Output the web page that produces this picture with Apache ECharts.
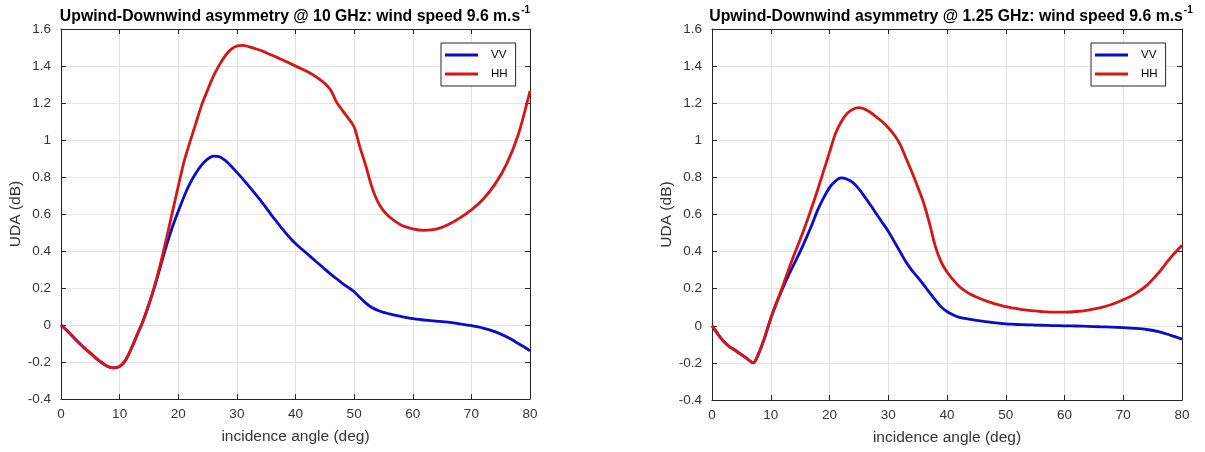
<!DOCTYPE html>
<html>
<head>
<meta charset="utf-8">
<script src="https://cdn.jsdelivr.net/npm/echarts@6/dist/echarts.min.js"></script>
<style>
html,body{margin:0;padding:0;background:#fff;}
#chart{width:1205px;height:452px;}
</style>
</head>
<body>
<div id="chart"></div>
<script>
// ---- data ----
var angles = [0,1,2,3,4,5,6,7,8,9,10,11,12,13,14,15,16,17,18,19,20,21,22,23,24,25,26,27,28,29,30,
  31,32,33,34,35,36,37,38,39,40,41,42,43,44,45,46,47,48,49,50,51,52,53,54,55,56,58,60,62,64,66,68,70,72,74,76,78,80];

var leftVV = [0,-0.03,-0.062,-0.095,-0.125,-0.152,-0.18,-0.204,-0.224,-0.232,-0.224,-0.19,-0.127,-0.052,0.022,0.112,0.21,0.32,0.43,0.53,0.615,
  0.695,0.765,0.82,0.865,0.897,0.913,0.91,0.89,0.86,0.825,
  0.79,0.752,0.714,0.675,0.633,0.59,0.55,0.51,0.473,0.44,0.412,0.385,0.357,0.33,0.302,0.275,0.25,0.225,0.203,0.18,
  0.148,0.118,0.095,0.08,0.068,0.06,0.046,0.034,0.027,0.021,0.015,0.006,-0.004,-0.017,-0.036,-0.064,-0.1,-0.139];

var leftHH = [0,-0.03,-0.062,-0.095,-0.125,-0.152,-0.18,-0.204,-0.224,-0.232,-0.224,-0.19,-0.127,-0.052,0.022,0.112,0.215,0.335,0.47,0.61,0.75,
  0.885,0.99,1.09,1.19,1.27,1.345,1.405,1.455,1.49,1.508,
  1.512,1.505,1.495,1.485,1.472,1.458,1.444,1.43,1.415,1.40,1.385,1.37,1.352,1.33,1.305,1.27,1.205,1.16,1.118,1.07,
  0.96,0.86,0.748,0.668,0.618,0.585,0.54,0.52,0.512,0.518,0.542,0.578,0.622,0.68,0.76,0.87,1.03,1.265];

var rightVV = [0,-0.045,-0.085,-0.113,-0.133,-0.155,-0.178,-0.2,-0.145,-0.06,0.04,0.125,0.2,0.27,0.335,0.4,0.47,0.545,0.625,0.69,0.745,
  0.78,0.797,0.79,0.772,0.738,0.695,0.65,0.603,0.556,0.51,
  0.455,0.4,0.345,0.3,0.262,0.222,0.18,0.14,0.102,0.077,0.06,0.047,0.04,0.034,0.029,0.025,0.021,0.017,0.013,0.01,
  0.009,0.007,0.006,0.005,0.004,0.003,0.001,0,-0.001,-0.003,-0.005,-0.007,-0.01,-0.014,-0.02,-0.031,-0.05,-0.072];

var rightHH = [0,-0.045,-0.085,-0.113,-0.133,-0.155,-0.178,-0.2,-0.145,-0.06,0.04,0.125,0.21,0.3,0.385,0.465,0.55,0.64,0.735,0.835,0.935,
  1.035,1.1,1.145,1.168,1.176,1.168,1.15,1.125,1.1,1.068,
  1.03,0.98,0.905,0.83,0.75,0.665,0.555,0.43,0.345,0.29,0.25,0.215,0.19,0.17,0.155,0.142,0.13,0.12,0.111,0.103,
  0.097,0.092,0.087,0.083,0.08,0.077,0.074,0.074,0.077,0.085,0.097,0.115,0.14,0.172,0.218,0.285,0.365,0.434];

var xTicks = {min: 0, max: 80, interval: 10};
var yTicks = {min: -0.4, max: 1.6, interval: 0.2};
var titles = ['Upwind-Downwind asymmetry @ 10 GHz: wind speed 9.6 m.s', 'Upwind-Downwind asymmetry @ 1.25 GHz: wind speed 9.6 m.s'];
var titleSup = '-1';
var xName = 'incidence angle (deg)';
var yName = 'UDA (dB)';
var seriesNames = ['VV', 'HH'];

// ---- chart ----
var FONT = '"Liberation Sans", Arial, Helvetica, sans-serif';
var AX = '#262626';
var LBL = '#333333';
var GRIDC = '#e3e3e3';
var BLUE = '#0a0ad0';
var RED = '#d81418';

function pairs(xs, ys){ return xs.map(function(x,i){ return [x, ys[i]]; }); }

var grids = [
  {left: 61, right: 675, top: 29, bottom: 53},
  {left: 712, right: 23, top: 29, bottom: 52}
];

var xAxes = [], yAxes = [];
[0,1].forEach(function(g){
  xAxes.push({
    type: 'value', gridIndex: g, min: xTicks.min, max: xTicks.max, interval: xTicks.interval,
    position: 'bottom',
    name: xName, nameLocation: 'middle', nameGap: 30,
    nameTextStyle: {fontFamily: FONT, fontSize: 15.5, color: LBL},
    axisLine: {show: true, onZero: false, lineStyle: {color: AX, width: 1}},
    axisTick: {show: true, inside: true, length: 5, lineStyle: {color: AX}},
    axisLabel: {fontFamily: FONT, fontSize: 13.5, color: LBL, margin: 8},
    splitLine: {show: true, lineStyle: {color: GRIDC, width: 1}}
  });
  xAxes.push({
    type: 'value', gridIndex: g, min: xTicks.min, max: xTicks.max, interval: xTicks.interval,
    position: 'top',
    axisLine: {show: true, onZero: false, lineStyle: {color: AX, width: 1}},
    axisTick: {show: true, inside: true, length: 5, lineStyle: {color: AX}},
    axisLabel: {show: false},
    splitLine: {show: false}
  });
  yAxes.push({
    type: 'value', gridIndex: g, min: yTicks.min, max: yTicks.max, interval: yTicks.interval,
    position: 'left',
    name: yName, nameLocation: 'middle', nameGap: 36, nameRotate: 90,
    nameTextStyle: {fontFamily: FONT, fontSize: 15.5, color: LBL},
    axisLine: {show: true, onZero: false, lineStyle: {color: AX, width: 1}},
    axisTick: {show: true, inside: true, length: 5, lineStyle: {color: AX}},
    axisLabel: {fontFamily: FONT, fontSize: 13.5, color: LBL, margin: 10,
      formatter: function(v){ return String(Math.round(v*10)/10); }},
    splitLine: {show: true, lineStyle: {color: GRIDC, width: 1}}
  });
  yAxes.push({
    type: 'value', gridIndex: g, min: yTicks.min, max: yTicks.max, interval: yTicks.interval,
    position: 'right',
    axisLine: {show: true, onZero: false, lineStyle: {color: AX, width: 1}},
    axisTick: {show: true, inside: true, length: 5, lineStyle: {color: AX}},
    axisLabel: {show: false},
    splitLine: {show: false}
  });
});

function lineSeries(name, color, xi, yi, data){
  return {
    name: name, type: 'line', xAxisIndex: xi, yAxisIndex: yi,
    data: data, showSymbol: false, symbol: 'none', smooth: 0.3,
    lineStyle: {color: color, width: 2.8}, itemStyle: {color: color},
    animation: false
  };
}

var series = [
  lineSeries(seriesNames[0], BLUE, 0, 0, pairs(angles, leftVV)),
  lineSeries(seriesNames[1], RED, 0, 0, pairs(angles, leftHH)),
  lineSeries(seriesNames[0], BLUE, 2, 2, pairs(angles, rightVV)),
  lineSeries(seriesNames[1], RED, 2, 2, pairs(angles, rightHH))
];

function makeTitle(text, cx){
  return {
    text: '{m|' + text + '}{s|' + titleSup + '}',
    left: cx, top: 0, textAlign: 'center',
    textStyle: {
      rich: {
        m: {fontFamily: FONT, fontSize: 15.8, fontWeight: 'bold', color: '#000', lineHeight: 20, verticalAlign: 'bottom'},
        s: {fontFamily: FONT, fontSize: 10, fontWeight: 'bold', color: '#000', lineHeight: 20, verticalAlign: 'top', padding: [0,0,8,1]}
      }
    }
  };
}

function makeLegend(left){
  return {
    orient: 'vertical', left: left, top: 43,
    data: seriesNames,
    icon: 'rect', itemWidth: 33, itemHeight: 3, itemGap: 7,
    padding: [6, 8, 6, 4],
    borderColor: AX, borderWidth: 1, backgroundColor: '#fff',
    textStyle: {fontFamily: FONT, fontSize: 11.5, color: '#000', padding: [0,0,0,8]},
    selectedMode: false
  };
}

var chart = echarts.init(document.getElementById('chart'), null, {renderer: 'canvas'});
chart.setOption({
  animation: false,
  backgroundColor: '#fff',
  title: [makeTitle(titles[0], 290), makeTitle(titles[1], 946)],
  legend: [makeLegend(441), makeLegend(1091)],
  grid: grids,
  xAxis: xAxes,
  yAxis: yAxes,
  series: series
});
</script>
</body>
</html>
